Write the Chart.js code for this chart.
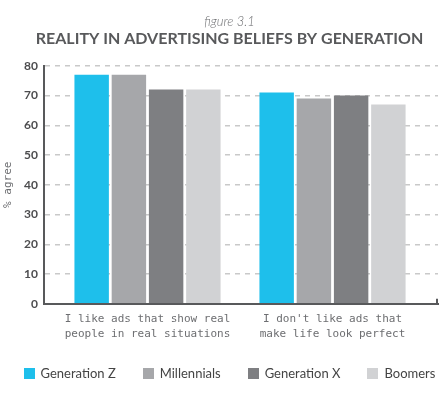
<!DOCTYPE html>
<html>
<head>
<meta charset="utf-8">
<script src="https://cdn.jsdelivr.net/npm/chart.js@4"></script>
<style>
  html, body { margin: 0; padding: 0; background: #fff; }
  #wrap { position: relative; width: 445px; height: 413px; }
  #legend {
    position: absolute; left: 14px; right: 0; top: 364px;
    display: flex; justify-content: center; gap: 27px;
    font: 13px Lato, sans-serif; color: #444; line-height: 18px;
  }
  #legend span.item { display: flex; align-items: center; white-space: nowrap; }
  #legend span.box { width: 11px; height: 11px; margin-right: 6px; display: inline-block; }
</style>
</head>
<body>
<div id="wrap"><canvas id="chart"></canvas><div id="legend"></div></div>
<script>
// chart data
const categories = [
  ['I like ads that show real', 'people in real situations'],
  ["I don't like ads that", 'make life look perfect']
];
const generations = ['Generation Z', 'Millennials', 'Generation X', 'Boomers'];
const genZ = [77, 71];
const millennials = [77, 69];
const genX = [72, 70];
const boomers = [72, 67];
const yMin = 0;
const yMax = 80;
const yStep = 10;

const colors = ['#1ebfeb', '#a6a7aa', '#7e7f82', '#d1d2d4'];
const axisColor = '#58595b';

// little upturn at the right end of the x axis
const axisEnd = {
  id: 'axisEnd',
  afterDraw(chart) {
    const { ctx, chartArea } = chart;
    ctx.save();
    ctx.strokeStyle = axisColor;
    ctx.lineWidth = 2;
    ctx.beginPath();
    ctx.moveTo(chartArea.right - 1, chartArea.bottom + 1);
    ctx.lineTo(chartArea.right - 1, chartArea.bottom - 5);
    ctx.stroke();
    ctx.restore();
  }
};

const ctx = document.getElementById('chart').getContext('2d');
const chart = new Chart(ctx, {
  type: 'bar',
  data: {
    labels: categories,
    datasets: [genZ, millennials, genX, boomers].map((values, i) => ({
      label: generations[i],
      data: values,
      backgroundColor: colors[i],
      borderWidth: 0,
      categoryPercentage: 0.805,
      barPercentage: 0.925
    }))
  },
  options: {
    responsive: true,
    maintainAspectRatio: false,
    animation: false,
    events: [],
    layout: { padding: { left: 14, right: 0, top: 0, bottom: 72 } },
    plugins: {
      tooltip: { enabled: false },
      legend: { display: false },
      title: {
        display: true,
        text: 'figure 3.1',
        color: '#6d6e71',
        font: { family: 'Lato', size: 13, style: 'italic', weight: '300' },
        padding: { top: 14, bottom: 0 }
      },
      subtitle: {
        display: true,
        text: 'REALITY IN ADVERTISING BELIEFS BY GENERATION',
        color: axisColor,
        font: { family: 'Lato', size: 16, weight: 'bold' },
        padding: { top: 0, bottom: 17 }
      }
    },
    scales: {
      x: {
        offset: false,
        grid: { display: false },
        border: { display: true, color: axisColor, width: 2, z: 1 },
        ticks: {
          color: '#6d6e71',
          padding: 0,
          maxRotation: 0,
          autoSkip: false,
          font: { family: 'DejaVu Sans Mono', size: 11, lineHeight: 1.33 }
        },
        // pull the two groups in from the plot edges, as in the original
        afterBuildTicks(scale) {
          scale._startValue = -0.5595;
          scale._valueRange = 2.1297;
        }
      },
      y: {
        min: yMin,
        max: yMax,
        ticks: {
          stepSize: yStep,
          color: '#4d4d4f',
          padding: 6,
          font: { family: 'Lato', size: 12, weight: 'bold' }
        },
        grid: {
          drawTicks: false,
          lineWidth: 1.5,
          color: c => (c.tick && c.tick.value === 0 ? 'rgba(0,0,0,0)' : '#c9c9c9')
        },
        border: { display: true, color: axisColor, width: 2, dash: [5, 5] },
        title: {
          display: true,
          text: '% agree',
          color: '#6d6e71',
          font: { family: 'DejaVu Sans Mono', size: 11 },
          padding: { top: -12, bottom: 0 }
        },
        afterFit(scale) { scale.width = 30; }
      },
      yRight: {
        position: 'right',
        display: true,
        grid: { display: false },
        border: { display: false },
        ticks: { display: false },
        afterFit(scale) { scale.width = 7; }
      }
    }
  },
  plugins: [axisEnd]
});

// legend as html under the plot, built from the datasets
const legend = document.getElementById('legend');
chart.data.datasets.forEach(ds => {
  const item = document.createElement('span');
  item.className = 'item';
  const box = document.createElement('span');
  box.className = 'box';
  box.style.background = ds.backgroundColor;
  item.appendChild(box);
  item.appendChild(document.createTextNode(ds.label));
  legend.appendChild(item);
});
</script>
</body>
</html>
